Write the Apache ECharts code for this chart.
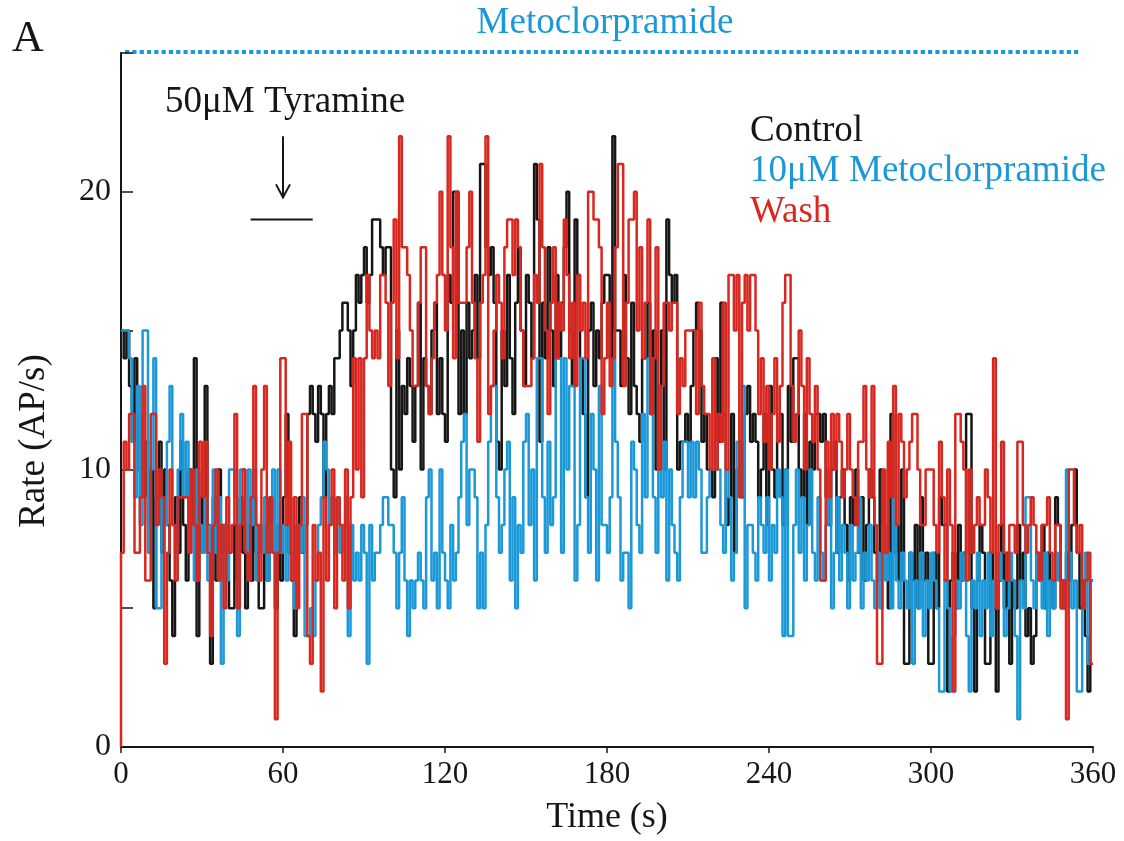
<!DOCTYPE html>
<html>
<head>
<meta charset="utf-8">
<script src="https://cdn.jsdelivr.net/npm/echarts@6/dist/echarts.min.js"></script>
<style>
html,body{margin:0;padding:0;background:#fff;}
#chart{width:1124px;height:841px;}
</style>
</head>
<body>
<div id="chart"></div>
<script>
// Firing rate (AP/s) in 1 s bins, t = 0 .. 359 s
const controlRate = [
15,14,15,13,11,14,10,12,9,11,
8,10,5,9,11,7,10,8,6,4,
9,7,11,8,6,10,8,14,4,9,
7,13,8,3,9,6,10,7,8,6,
5,5,8,6,9,7,5,8,6,9,
7,5,5,8,6,9,7,5,8,6,
9,12,7,6,4,8,9,7,8,12,
13,12,11,13,12,9,12,13,12,14,
14,15,16,16,15,13,15,17,16,17,
18,16,17,19,19,19,18,17,18,18,
10,9,15,10,13,12,14,13,11,13,
16,10,14,13,12,15,16,12,14,12,
11,17,16,20,20,12,15,12,16,14,
15,17,14,21,21,18,17,18,16,11,
10,15,13,17,14,12,16,18,15,13,
17,16,14,21,19,11,16,14,18,15,
13,17,14,16,18,20,15,13,19,17,
14,12,9,15,16,13,15,14,16,17,
17,14,22,15,15,13,17,14,12,16,
13,12,11,14,14,16,12,15,10,13,
15,10,19,17,16,17,10,11,11,12,
11,13,15,16,15,11,12,10,10,9,
14,11,16,12,8,9,12,7,10,11,
9,12,13,11,12,11,9,10,12,8,
13,10,9,11,12,8,10,13,11,14,
14,10,9,12,8,11,10,12,12,11,
12,9,8,10,11,7,9,10,8,6,
9,8,10,7,9,6,8,10,9,7,
6,10,8,7,5,12,7,8,6,10,
3,3,7,6,8,5,9,6,7,3,
3,7,5,9,8,8,2,6,7,5,
8,6,7,12,12,5,2,6,8,7,
3,3,7,5,2,6,8,5,7,3,
6,5,8,6,7,4,5,3,4,7,
6,8,5,7,6,5,9,8,6,5,
7,6,8,10,7,5,6,4,2,6
];
const metoRate = [
15,15,15,14,11,9,13,8,15,15,
7,10,14,5,5,9,8,11,13,8,
7,10,12,9,11,7,8,6,10,8,
7,9,6,8,10,7,9,3,8,6,
10,10,9,4,10,10,7,10,8,10,
6,8,7,9,6,8,10,7,10,7,
8,6,9,7,5,8,7,9,4,4,
5,4,6,8,9,11,10,8,9,7,
9,7,8,9,4,8,6,7,6,8,
7,3,8,6,7,7,8,9,9,8,
8,7,5,7,9,6,4,6,5,6,
7,6,5,9,10,6,7,5,10,7,
6,5,8,6,7,9,11,12,8,10,
10,9,5,7,5,8,11,13,13,9,
7,8,10,11,6,9,5,8,7,11,
12,8,10,6,14,14,9,7,11,8,
9,14,14,7,14,10,13,13,6,8,
14,14,9,7,12,10,6,13,8,8,
7,9,14,11,9,6,7,7,5,11,
10,8,7,12,9,14,12,9,7,13,
9,11,6,10,8,7,6,9,11,11,
9,11,9,11,10,7,7,9,10,10,
11,10,8,7,10,9,6,7,11,9,
13,5,8,8,7,6,9,8,7,9,
6,8,7,10,9,4,10,4,4,8,
10,7,9,6,8,10,7,6,9,7,
6,8,10,5,7,9,6,8,7,5,
8,6,7,9,5,7,6,8,6,5,
7,5,8,6,7,5,9,6,5,7,
6,5,7,3,6,5,7,4,6,5,
7,6,5,2,2,6,5,2,4,6,
5,7,6,4,2,6,5,7,4,6,
5,7,4,6,5,7,6,4,5,7,
6,4,1,6,5,9,9,6,5,7,
6,5,7,4,6,5,7,6,5,6,
10,7,5,6,2,2,5,7,3,6
];
const washStartLevel = 0;
const washRate = [
7,11,10,12,12,7,7,9,13,6,
6,12,12,8,10,9,3,7,10,8,
6,9,9,9,9,7,10,8,6,11,
9,11,7,4,8,10,6,8,5,9,
7,8,12,5,8,10,7,6,9,13,
8,6,10,13,7,9,7,1,7,14,
14,8,11,6,9,5,8,12,12,4,
3,8,6,7,2,9,6,8,10,5,
9,8,6,10,5,9,14,10,14,9,
14,17,15,14,15,14,17,17,16,13,
16,19,14,22,18,18,17,15,13,13,
16,18,18,13,12,14,16,17,20,17,
15,22,18,14,20,16,16,16,18,20,
16,14,11,16,17,22,12,13,15,17,
16,14,18,19,19,17,19,18,15,13,
13,13,14,17,16,21,18,15,12,16,
18,14,16,15,19,17,14,16,13,17,
15,16,14,20,20,19,19,18,12,14,
16,13,14,18,21,21,13,16,19,19,
20,15,18,14,16,19,12,14,18,10,
13,16,16,15,16,16,12,14,13,15,
15,15,15,12,16,13,12,12,10,14,
10,12,11,16,10,17,17,15,17,9,
16,17,15,17,17,15,12,14,11,13,
10,12,14,11,13,16,17,17,13,11,
12,15,13,10,14,12,11,13,10,6,
6,11,9,12,10,12,11,9,10,12,
10,9,8,11,11,13,10,9,13,8,
3,3,10,7,11,9,13,8,12,11,
9,10,11,12,12,10,8,8,10,10,
10,8,7,11,9,6,10,8,2,12,
12,11,10,6,10,7,8,9,8,8,
10,9,7,14,5,8,11,7,6,8,
8,7,11,11,8,7,8,9,8,7,
6,8,8,9,7,6,8,8,5,6,
1,10,10,8,7,8,5,6,7,3
];
const xTicks = [0, 60, 120, 180, 240, 300, 360];
const yLabelled = [0, 10, 20];
const seriesNames = ['Control', '10\u03bcM Metoclorpramide', 'Wash'];
const tyramineWindow = [48, 71];   // application bar (s)
const tyramineArrowAt = 60;        // s
const drugWindow = [1.5, 355];     // metoclopramide dotted bar (s)

const SERIF = '"Liberation Serif","Times New Roman",serif';
const BLACK = '#161616', BLUE = '#1a98d8', RED = '#d8271f';

function toSteps(values) {
  const pts = values.map((v, i) => [i, v]);
  pts.push([values.length, values[values.length - 1]]);
  return pts;
}

const chart = echarts.init(document.getElementById('chart'), null, {renderer: 'canvas'});

function traceSeries(name, data, color, z) {
  return {
    name, type: 'line', step: 'end', data,
    symbol: 'none', showSymbol: false, sampling: null,
    lineStyle: {color, width: 2.5}, itemStyle: {color},
    z, animation: false, silent: true
  };
}

chart.setOption({
  animation: false,
  backgroundColor: '#ffffff',
  grid: {left: 121, right: 31, top: 53, bottom: 91},
  xAxis: {
    type: 'value', min: 0, max: 360, interval: 60,
    name: 'Time (s)', nameLocation: 'middle', nameGap: 53,
    nameTextStyle: {fontFamily: SERIF, fontSize: 36, color: BLACK},
    axisLine: {show: true, onZero: false, lineStyle: {color: BLACK, width: 2}},
    axisTick: {show: true, inside: false, length: 6, lineStyle: {color: BLACK, width: 1.5}},
    axisLabel: {fontFamily: SERIF, fontSize: 31, color: BLACK, margin: 12,
      formatter: v => xTicks.includes(v) ? String(v) : ''},
    splitLine: {show: false}
  },
  yAxis: {
    type: 'value', min: 0, max: 25, interval: 5,
    axisLine: {show: true, onZero: false, lineStyle: {color: BLACK, width: 2}},
    axisTick: {show: true, inside: true, length: 12, lineStyle: {color: BLACK, width: 1.5}},
    axisLabel: {fontFamily: SERIF, fontSize: 32, color: BLACK, margin: 10,
      formatter: v => yLabelled.includes(v) ? String(v) : ''},
    splitLine: {show: false}
  },
  series: [
    traceSeries(seriesNames[0], toSteps(controlRate), BLACK, 2),
    traceSeries(seriesNames[1], toSteps(metoRate), BLUE, 3),
    traceSeries(seriesNames[2], [[0, washStartLevel]].concat(toSteps(washRate)), RED, 4)
  ]
});

const px = (t, v) => chart.convertToPixel({gridIndex: 0}, [t, v]);
const dA = px(drugWindow[0], 25), dB = px(drugWindow[1], 25);
const bA = px(tyramineWindow[0], 19), bB = px(tyramineWindow[1], 19);
const aTop = px(tyramineArrowAt, 22.0), aBot = px(tyramineArrowAt, 19.8);

chart.setOption({
  graphic: [
    {type: 'text', left: 12, top: 17, style: {text: 'A', font: '44px ' + SERIF, fill: BLACK}},
    {type: 'text', x: 605, y: 23, style: {text: 'Metoclorpramide', font: '37px ' + SERIF, fill: BLUE, align: 'center', verticalAlign: 'middle'}},
    {type: 'line', shape: {x1: dA[0], y1: dA[1] - 1, x2: dB[0], y2: dB[1] - 1},
      style: {stroke: BLUE, lineWidth: 4, lineDash: [4.2, 3.1]}},
    {type: 'text', x: 165, y: 102, style: {text: '50\u03bcM Tyramine', font: '37px ' + SERIF, fill: BLACK, align: 'left', verticalAlign: 'middle'}},
    {type: 'line', shape: {x1: aTop[0], y1: aTop[1], x2: aBot[0], y2: aBot[1]}, style: {stroke: BLACK, lineWidth: 2}},
    {type: 'polyline', shape: {points: [[aBot[0] - 7, aBot[1] - 13], [aBot[0], aBot[1]], [aBot[0] + 7, aBot[1] - 13]]}, style: {stroke: BLACK, lineWidth: 2, fill: null}},
    {type: 'line', shape: {x1: bA[0], y1: bA[1], x2: bB[0], y2: bB[1]}, style: {stroke: BLACK, lineWidth: 2}},
    {type: 'text', x: 750, y: 131, style: {text: seriesNames[0], font: '37px ' + SERIF, fill: BLACK, align: 'left', verticalAlign: 'middle'}},
    {type: 'text', x: 750, y: 171, style: {text: seriesNames[1], font: '37px ' + SERIF, fill: BLUE, align: 'left', verticalAlign: 'middle'}},
    {type: 'text', x: 750, y: 212, style: {text: seriesNames[2], font: '37px ' + SERIF, fill: RED, align: 'left', verticalAlign: 'middle'}},
    {type: 'text', x: 34, y: 441, rotation: Math.PI / 2, style: {text: 'Rate (AP/s)', font: '37px ' + SERIF, fill: BLACK, align: 'center', verticalAlign: 'middle'}}
  ]
});
</script>
</body>
</html>
